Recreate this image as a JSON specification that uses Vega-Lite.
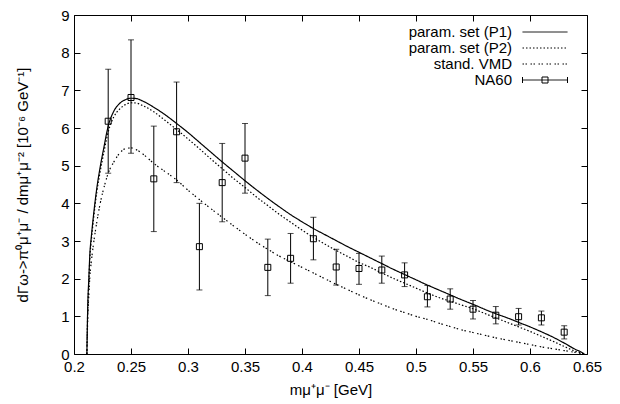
{
  "$schema": "https://vega.github.io/schema/vega-lite/v6.json",
  "autosize": {"type": "none"},
  "padding": {"left": 74, "top": 15, "right": 33, "bottom": 50},
  "width": 513,
  "height": 339,
  "background": "white",
  "config": {
    "view": {"stroke": "black", "strokeWidth": 1},
    "font": "Liberation Sans",
    "axis": {"grid": false, "domain": false, "tickColor": "black", "labelColor": "black", "titleColor": "black", "labelFont": "Liberation Sans", "titleFont": "Liberation Sans", "labelFontSize": 15, "titleFontSize": 15, "titleFontWeight": "normal", "tickSize": -6},
    "legend": {"labelFont": "Liberation Sans", "labelFontSize": 15, "labelColor": "black"}
  },
  "datasets": {
    "curves": [
      {"x": 0.2113, "y": 0, "s": "param. set (P1)"},
      {"x": 0.212, "y": 1.2, "s": "param. set (P1)"},
      {"x": 0.213, "y": 2.0, "s": "param. set (P1)"},
      {"x": 0.214, "y": 2.7, "s": "param. set (P1)"},
      {"x": 0.215, "y": 3.05, "s": "param. set (P1)"},
      {"x": 0.217, "y": 3.65, "s": "param. set (P1)"},
      {"x": 0.22, "y": 4.4, "s": "param. set (P1)"},
      {"x": 0.223, "y": 4.97, "s": "param. set (P1)"},
      {"x": 0.226, "y": 5.45, "s": "param. set (P1)"},
      {"x": 0.23, "y": 6.05, "s": "param. set (P1)"},
      {"x": 0.235, "y": 6.45, "s": "param. set (P1)"},
      {"x": 0.24, "y": 6.65, "s": "param. set (P1)"},
      {"x": 0.245, "y": 6.75, "s": "param. set (P1)"},
      {"x": 0.25, "y": 6.79, "s": "param. set (P1)"},
      {"x": 0.255, "y": 6.78, "s": "param. set (P1)"},
      {"x": 0.26, "y": 6.72, "s": "param. set (P1)"},
      {"x": 0.27, "y": 6.55, "s": "param. set (P1)"},
      {"x": 0.28, "y": 6.35, "s": "param. set (P1)"},
      {"x": 0.29, "y": 6.12, "s": "param. set (P1)"},
      {"x": 0.30, "y": 5.88, "s": "param. set (P1)"},
      {"x": 0.31, "y": 5.62, "s": "param. set (P1)"},
      {"x": 0.32, "y": 5.36, "s": "param. set (P1)"},
      {"x": 0.33, "y": 5.1, "s": "param. set (P1)"},
      {"x": 0.34, "y": 4.85, "s": "param. set (P1)"},
      {"x": 0.35, "y": 4.6, "s": "param. set (P1)"},
      {"x": 0.36, "y": 4.36, "s": "param. set (P1)"},
      {"x": 0.37, "y": 4.13, "s": "param. set (P1)"},
      {"x": 0.38, "y": 3.91, "s": "param. set (P1)"},
      {"x": 0.39, "y": 3.7, "s": "param. set (P1)"},
      {"x": 0.40, "y": 3.51, "s": "param. set (P1)"},
      {"x": 0.41, "y": 3.33, "s": "param. set (P1)"},
      {"x": 0.42, "y": 3.17, "s": "param. set (P1)"},
      {"x": 0.43, "y": 3.01, "s": "param. set (P1)"},
      {"x": 0.44, "y": 2.85, "s": "param. set (P1)"},
      {"x": 0.45, "y": 2.7, "s": "param. set (P1)"},
      {"x": 0.46, "y": 2.55, "s": "param. set (P1)"},
      {"x": 0.47, "y": 2.4, "s": "param. set (P1)"},
      {"x": 0.48, "y": 2.25, "s": "param. set (P1)"},
      {"x": 0.49, "y": 2.11, "s": "param. set (P1)"},
      {"x": 0.50, "y": 1.97, "s": "param. set (P1)"},
      {"x": 0.51, "y": 1.83, "s": "param. set (P1)"},
      {"x": 0.52, "y": 1.7, "s": "param. set (P1)"},
      {"x": 0.53, "y": 1.57, "s": "param. set (P1)"},
      {"x": 0.54, "y": 1.44, "s": "param. set (P1)"},
      {"x": 0.55, "y": 1.32, "s": "param. set (P1)"},
      {"x": 0.56, "y": 1.19, "s": "param. set (P1)"},
      {"x": 0.57, "y": 1.07, "s": "param. set (P1)"},
      {"x": 0.58, "y": 0.96, "s": "param. set (P1)"},
      {"x": 0.59, "y": 0.84, "s": "param. set (P1)"},
      {"x": 0.60, "y": 0.72, "s": "param. set (P1)"},
      {"x": 0.61, "y": 0.59, "s": "param. set (P1)"},
      {"x": 0.62, "y": 0.45, "s": "param. set (P1)"},
      {"x": 0.63, "y": 0.29, "s": "param. set (P1)"},
      {"x": 0.64, "y": 0.12, "s": "param. set (P1)"},
      {"x": 0.645, "y": 0.05, "s": "param. set (P1)"},
      {"x": 0.6477, "y": 0, "s": "param. set (P1)"},

      {"x": 0.2113, "y": 0, "s": "param. set (P2)"},
      {"x": 0.212, "y": 1.1, "s": "param. set (P2)"},
      {"x": 0.213, "y": 1.9, "s": "param. set (P2)"},
      {"x": 0.214, "y": 2.6, "s": "param. set (P2)"},
      {"x": 0.215, "y": 2.95, "s": "param. set (P2)"},
      {"x": 0.217, "y": 3.55, "s": "param. set (P2)"},
      {"x": 0.22, "y": 4.3, "s": "param. set (P2)"},
      {"x": 0.223, "y": 4.85, "s": "param. set (P2)"},
      {"x": 0.226, "y": 5.32, "s": "param. set (P2)"},
      {"x": 0.23, "y": 5.9, "s": "param. set (P2)"},
      {"x": 0.235, "y": 6.3, "s": "param. set (P2)"},
      {"x": 0.24, "y": 6.5, "s": "param. set (P2)"},
      {"x": 0.245, "y": 6.62, "s": "param. set (P2)"},
      {"x": 0.25, "y": 6.67, "s": "param. set (P2)"},
      {"x": 0.255, "y": 6.66, "s": "param. set (P2)"},
      {"x": 0.26, "y": 6.6, "s": "param. set (P2)"},
      {"x": 0.27, "y": 6.43, "s": "param. set (P2)"},
      {"x": 0.28, "y": 6.2, "s": "param. set (P2)"},
      {"x": 0.29, "y": 5.96, "s": "param. set (P2)"},
      {"x": 0.30, "y": 5.71, "s": "param. set (P2)"},
      {"x": 0.31, "y": 5.45, "s": "param. set (P2)"},
      {"x": 0.32, "y": 5.18, "s": "param. set (P2)"},
      {"x": 0.33, "y": 4.92, "s": "param. set (P2)"},
      {"x": 0.34, "y": 4.66, "s": "param. set (P2)"},
      {"x": 0.35, "y": 4.42, "s": "param. set (P2)"},
      {"x": 0.36, "y": 4.17, "s": "param. set (P2)"},
      {"x": 0.37, "y": 3.94, "s": "param. set (P2)"},
      {"x": 0.38, "y": 3.71, "s": "param. set (P2)"},
      {"x": 0.39, "y": 3.5, "s": "param. set (P2)"},
      {"x": 0.40, "y": 3.29, "s": "param. set (P2)"},
      {"x": 0.41, "y": 3.1, "s": "param. set (P2)"},
      {"x": 0.42, "y": 2.92, "s": "param. set (P2)"},
      {"x": 0.43, "y": 2.75, "s": "param. set (P2)"},
      {"x": 0.44, "y": 2.59, "s": "param. set (P2)"},
      {"x": 0.45, "y": 2.43, "s": "param. set (P2)"},
      {"x": 0.46, "y": 2.3, "s": "param. set (P2)"},
      {"x": 0.47, "y": 2.15, "s": "param. set (P2)"},
      {"x": 0.48, "y": 2.01, "s": "param. set (P2)"},
      {"x": 0.49, "y": 1.88, "s": "param. set (P2)"},
      {"x": 0.50, "y": 1.75, "s": "param. set (P2)"},
      {"x": 0.51, "y": 1.62, "s": "param. set (P2)"},
      {"x": 0.52, "y": 1.5, "s": "param. set (P2)"},
      {"x": 0.53, "y": 1.4, "s": "param. set (P2)"},
      {"x": 0.54, "y": 1.3, "s": "param. set (P2)"},
      {"x": 0.55, "y": 1.2, "s": "param. set (P2)"},
      {"x": 0.56, "y": 1.08, "s": "param. set (P2)"},
      {"x": 0.57, "y": 0.96, "s": "param. set (P2)"},
      {"x": 0.58, "y": 0.84, "s": "param. set (P2)"},
      {"x": 0.59, "y": 0.72, "s": "param. set (P2)"},
      {"x": 0.60, "y": 0.6, "s": "param. set (P2)"},
      {"x": 0.61, "y": 0.47, "s": "param. set (P2)"},
      {"x": 0.62, "y": 0.34, "s": "param. set (P2)"},
      {"x": 0.63, "y": 0.2, "s": "param. set (P2)"},
      {"x": 0.64, "y": 0.07, "s": "param. set (P2)"},
      {"x": 0.6477, "y": 0, "s": "param. set (P2)"},

      {"x": 0.2113, "y": 0, "s": "stand. VMD"},
      {"x": 0.212, "y": 0.9, "s": "stand. VMD"},
      {"x": 0.213, "y": 1.55, "s": "stand. VMD"},
      {"x": 0.214, "y": 2.1, "s": "stand. VMD"},
      {"x": 0.215, "y": 2.4, "s": "stand. VMD"},
      {"x": 0.217, "y": 2.9, "s": "stand. VMD"},
      {"x": 0.22, "y": 3.5, "s": "stand. VMD"},
      {"x": 0.223, "y": 4.0, "s": "stand. VMD"},
      {"x": 0.227, "y": 4.5, "s": "stand. VMD"},
      {"x": 0.23, "y": 4.8, "s": "stand. VMD"},
      {"x": 0.235, "y": 5.1, "s": "stand. VMD"},
      {"x": 0.24, "y": 5.33, "s": "stand. VMD"},
      {"x": 0.245, "y": 5.45, "s": "stand. VMD"},
      {"x": 0.25, "y": 5.47, "s": "stand. VMD"},
      {"x": 0.255, "y": 5.42, "s": "stand. VMD"},
      {"x": 0.26, "y": 5.32, "s": "stand. VMD"},
      {"x": 0.27, "y": 5.06, "s": "stand. VMD"},
      {"x": 0.28, "y": 4.84, "s": "stand. VMD"},
      {"x": 0.29, "y": 4.62, "s": "stand. VMD"},
      {"x": 0.30, "y": 4.35, "s": "stand. VMD"},
      {"x": 0.31, "y": 4.1, "s": "stand. VMD"},
      {"x": 0.32, "y": 3.86, "s": "stand. VMD"},
      {"x": 0.33, "y": 3.63, "s": "stand. VMD"},
      {"x": 0.34, "y": 3.4, "s": "stand. VMD"},
      {"x": 0.35, "y": 3.18, "s": "stand. VMD"},
      {"x": 0.36, "y": 2.97, "s": "stand. VMD"},
      {"x": 0.37, "y": 2.78, "s": "stand. VMD"},
      {"x": 0.38, "y": 2.6, "s": "stand. VMD"},
      {"x": 0.39, "y": 2.45, "s": "stand. VMD"},
      {"x": 0.40, "y": 2.3, "s": "stand. VMD"},
      {"x": 0.41, "y": 2.15, "s": "stand. VMD"},
      {"x": 0.42, "y": 2.0, "s": "stand. VMD"},
      {"x": 0.43, "y": 1.85, "s": "stand. VMD"},
      {"x": 0.44, "y": 1.71, "s": "stand. VMD"},
      {"x": 0.45, "y": 1.57, "s": "stand. VMD"},
      {"x": 0.46, "y": 1.44, "s": "stand. VMD"},
      {"x": 0.47, "y": 1.32, "s": "stand. VMD"},
      {"x": 0.48, "y": 1.2, "s": "stand. VMD"},
      {"x": 0.49, "y": 1.1, "s": "stand. VMD"},
      {"x": 0.50, "y": 1.0, "s": "stand. VMD"},
      {"x": 0.51, "y": 0.92, "s": "stand. VMD"},
      {"x": 0.52, "y": 0.82, "s": "stand. VMD"},
      {"x": 0.53, "y": 0.73, "s": "stand. VMD"},
      {"x": 0.54, "y": 0.64, "s": "stand. VMD"},
      {"x": 0.55, "y": 0.57, "s": "stand. VMD"},
      {"x": 0.56, "y": 0.5, "s": "stand. VMD"},
      {"x": 0.57, "y": 0.43, "s": "stand. VMD"},
      {"x": 0.58, "y": 0.37, "s": "stand. VMD"},
      {"x": 0.59, "y": 0.31, "s": "stand. VMD"},
      {"x": 0.60, "y": 0.25, "s": "stand. VMD"},
      {"x": 0.61, "y": 0.19, "s": "stand. VMD"},
      {"x": 0.62, "y": 0.14, "s": "stand. VMD"},
      {"x": 0.63, "y": 0.09, "s": "stand. VMD"},
      {"x": 0.64, "y": 0.04, "s": "stand. VMD"},
      {"x": 0.6477, "y": 0, "s": "stand. VMD"}
    ],
    "na60": [
      {"x": 0.23, "y": 6.18, "lo": 4.8, "hi": 7.56},
      {"x": 0.25, "y": 6.81, "lo": 5.33, "hi": 8.34},
      {"x": 0.27, "y": 4.65, "lo": 3.25, "hi": 6.05},
      {"x": 0.29, "y": 5.9, "lo": 4.55, "hi": 7.22},
      {"x": 0.31, "y": 2.85, "lo": 1.7, "hi": 4.0},
      {"x": 0.33, "y": 4.55, "lo": 3.51, "hi": 5.59},
      {"x": 0.35, "y": 5.2, "lo": 4.27, "hi": 6.12},
      {"x": 0.37, "y": 2.3, "lo": 1.55, "hi": 3.05},
      {"x": 0.39, "y": 2.54, "lo": 1.88, "hi": 3.2},
      {"x": 0.41, "y": 3.06, "lo": 2.5, "hi": 3.63},
      {"x": 0.43, "y": 2.31, "lo": 1.83, "hi": 2.78},
      {"x": 0.45, "y": 2.27, "lo": 1.85, "hi": 2.67},
      {"x": 0.47, "y": 2.23, "lo": 1.88, "hi": 2.6},
      {"x": 0.49, "y": 2.1, "lo": 1.79, "hi": 2.42},
      {"x": 0.51, "y": 1.52, "lo": 1.25, "hi": 1.82},
      {"x": 0.53, "y": 1.46, "lo": 1.19, "hi": 1.73},
      {"x": 0.55, "y": 1.19, "lo": 0.93, "hi": 1.42},
      {"x": 0.57, "y": 1.03, "lo": 0.8, "hi": 1.26},
      {"x": 0.59, "y": 0.99, "lo": 0.77, "hi": 1.21},
      {"x": 0.61, "y": 0.96, "lo": 0.77, "hi": 1.14},
      {"x": 0.63, "y": 0.58, "lo": 0.4, "hi": 0.75}
    ]
  },
  "resolve": {"axis": {"x": "independent", "y": "independent"}},
  "layer": [
    {
      "data": {"name": "curves"},
      "mark": {"type": "line", "color": "black", "strokeWidth": 1.2, "interpolate": "monotone"},
      "encoding": {
        "x": {"field": "x", "type": "quantitative", "scale": {"domain": [0.2, 0.65], "nice": false, "zero": false},
          "axis": {"values": [0.2, 0.25, 0.3, 0.35, 0.4, 0.45, 0.5, 0.55, 0.6, 0.65], "format": ".2~f", "title": "mμ⁺μ⁻ [GeV]", "labelPadding": 11, "titlePadding": 8, "labelFlush": false}},
        "y": {"field": "y", "type": "quantitative", "scale": {"domain": [0, 9], "nice": false},
          "axis": {"values": [0,1,2,3,4,5,6,7,8,9], "format": "d", "title": "dΓω->π⁰μ⁺μ⁻ / dmμ⁺μ⁻² [10⁻⁶ GeV⁻¹]", "labelPadding": 11, "titlePadding": 30, "labelFlush": false}},
        "strokeDash": {"field": "s", "type": "nominal",
          "scale": {"domain": ["param. set (P1)", "param. set (P2)", "stand. VMD", "NA60"], "range": [[1, 0], [1.5, 2], [1.5, 1.5, 1.5, 3.5], [1, 0]]},
          "legend": {"title": null, "orient": "none", "legendX": 463, "legendY": 9, "symbolType": "M-3,0H3", "symbolSize": 225, "symbolStrokeWidth": 1, "symbolStrokeColor": "black", "labelAlign": "right", "labelOffset": -41, "rowPadding": -1,
            "encode": {"symbols": {"update": {"shape": {"signal": "datum.value === 'NA60' ? 'M-3,0H3M-3,-0.4V0.4M3,-0.4V0.4M-0.4,-0.4H0.4V0.4H-0.4Z' : 'M-3,0H3'"}}}}}}
      }
    },
    {
      "data": {"name": "na60"},
      "mark": {"type": "errorbar", "ticks": {"size": 6, "color": "black"}, "rule": {"color": "black", "strokeWidth": 1}},
      "encoding": {
        "x": {"field": "x", "type": "quantitative", "axis": {"orient": "top", "values": [0.2, 0.25, 0.3, 0.35, 0.4, 0.45, 0.5, 0.55, 0.6, 0.65], "labels": false, "title": null}},
        "y": {"field": "lo", "type": "quantitative", "axis": {"orient": "right", "values": [0,1,2,3,4,5,6,7,8,9], "labels": false, "title": null}},
        "y2": {"field": "hi"}
      }
    },
    {
      "data": {"name": "na60"},
      "mark": {"type": "point", "shape": "square", "filled": false, "size": 36, "stroke": "black", "strokeWidth": 1, "opacity": 1},
      "encoding": {
        "x": {"field": "x", "type": "quantitative", "axis": null},
        "y": {"field": "y", "type": "quantitative", "axis": null}
      }
    }
  ]
}
